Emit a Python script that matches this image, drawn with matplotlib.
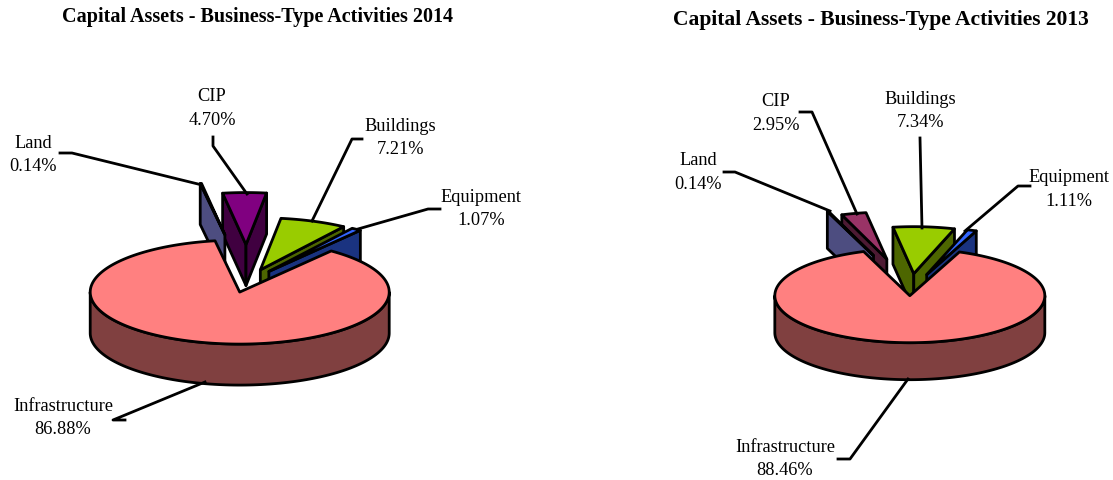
import numpy as np
import matplotlib
matplotlib.use('Agg')
import matplotlib.pyplot as plt
from matplotlib.patches import Polygon

plt.rcParams['font.family'] = ['Liberation Serif', 'DejaVu Serif']

categories = ['Land', 'CIP', 'Buildings', 'Equipment', 'Infrastructure']
values_2014 = [0.14, 4.70, 7.21, 1.07, 86.88]
values_2013 = [0.14, 2.95, 7.34, 1.11, 88.46]
title_2014 = 'Capital Assets - Business-Type Activities 2014'
title_2013 = 'Capital Assets - Business-Type Activities 2013'

# top colour, side colour
colors_2014 = [('#9999ff', '#4d4d80'), ('#800080', '#400040'), ('#99cc00', '#4d6600'),
               ('#3366ff', '#1a3380'), ('#ff8080', '#804040')]
colors_2013 = [('#9999ff', '#4d4d80'), ('#993366', '#4d1a33'), ('#99cc00', '#4d6600'),
               ('#3366ff', '#1a3380'), ('#ff8080', '#804040')]

LW = 2.0
# slices are painted back to front, CIP goes under Land
paint_order = [1, 0, 2, 3, 4]


def face(ax, pts, color):
    ax.add_patch(Polygon(pts, closed=True, facecolor=color, edgecolor='black',
                         linewidth=LW, joinstyle='round'))


def draw_slice(ax, a1, a2, e, cx, cy, rx, ry, depth, top, side):
    mid = np.radians((a1 + a2) / 2)
    ax0 = cx + e * rx * np.cos(mid)
    ay0 = cy - e * ry * np.sin(mid)

    def rim(a):
        return np.array([ax0 + rx * np.cos(np.radians(a)), ay0 - ry * np.sin(np.radians(a))])

    apex = np.array([ax0, ay0])
    down = np.array([0, depth])
    # cut walls that face the viewer
    if np.cos(np.radians(a1)) < 0:
        p = rim(a1)
        face(ax, [apex, p, p + down, apex + down], side)
    if np.cos(np.radians(a2)) > 0:
        p = rim(a2)
        face(ax, [apex, p, p + down, apex + down], side)
    # outer wall, front half only
    lo, hi = max(a2, -180), min(a1, 0)
    if hi > lo:
        arc = np.linspace(hi, lo, 120)
        upper = np.array([rim(a) for a in arc])
        face(ax, np.vstack([upper, (upper + down)[::-1]]), side)
    arc = np.linspace(a1, a2, 240)
    face(ax, np.vstack([[apex], [rim(a) for a in arc]]), top)


def draw_pie(ax, values, cx, cy, rx, ry, depth, start, explode, colors):
    edges = start - np.concatenate([[0], np.cumsum(values)]) / sum(values) * 360
    for i in paint_order:
        draw_slice(ax, edges[i], edges[i + 1], explode[i], cx, cy, rx, ry, depth,
                   colors[i][0], colors[i][1])


def leader(ax, xs, ys):
    ax.plot(xs, ys, color='black', lw=LW, solid_joinstyle='round')


def label(ax, x, y, name, val):
    ax.text(x, y, f'{name}\n{val:.2f}%', ha='center', va='center', fontsize=13.2, linespacing=1.5)


fig = plt.figure(figsize=(11.13, 4.81), dpi=100)
ax = fig.add_axes([0, 0, 1, 1])
ax.set_xlim(0, 1113)
ax.set_ylim(481, 0)
ax.axis('off')

draw_pie(ax, values_2014, 247, 283, 149.5, 52, 41, 99.5,
         [0.92, 0.72, 0.25, 0.25, 0.2], colors_2014)
draw_pie(ax, values_2013, 910, 292, 135, 47, 37, 110,
         [0.8, 0.7, 0.37, 0.37, 0.1], colors_2013)

# leader lines 2014
leader(ax, [60, 72, 198], [154, 154, 185])
leader(ax, [213, 213, 247], [138, 147, 195])
leader(ax, [362, 352, 312], [140, 140, 222])
leader(ax, [440, 428, 358], [210, 210, 230])
leader(ax, [125, 113, 205], [421, 421, 383])
# leader lines 2013
leader(ax, [724, 735, 830], [173, 173, 212])
leader(ax, [800, 812, 857], [113, 113, 215])
leader(ax, [920, 922], [139, 229])
leader(ax, [1030, 1018, 965], [187, 187, 232])
leader(ax, [838, 850, 908], [460, 460, 380])

pos_2014 = [(33, 155), (212, 108.5), (400, 138), (481, 209), (63, 418)]
pos_2013 = [(698, 172.5), (776, 113.5), (920, 111), (1069, 189.5), (785, 459)]
for (x, y), name, val in zip(pos_2014, categories, values_2014):
    label(ax, x, y, name, val)
for (x, y), name, val in zip(pos_2013, categories, values_2013):
    label(ax, x, y, name, val)

ax.text(258, 17, title_2014, ha='center', va='center', fontsize=14.5, fontweight='bold')
ax.text(881, 20, title_2013, ha='center', va='center', fontsize=15.5, fontweight='bold')

fig.savefig('out.png', dpi=100)
